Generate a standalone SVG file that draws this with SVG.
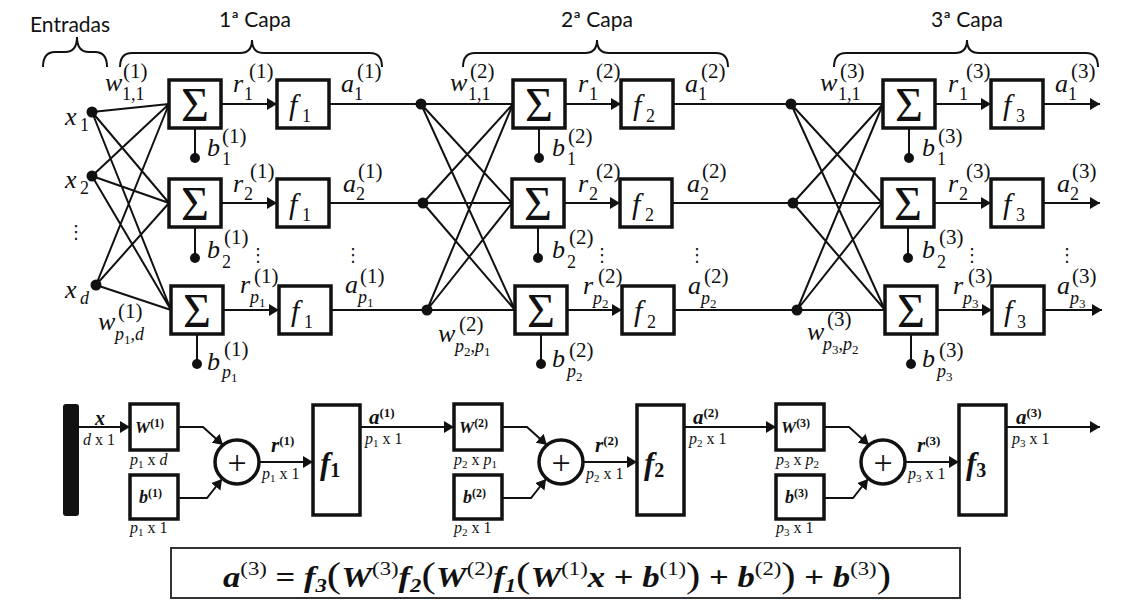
<svg xmlns="http://www.w3.org/2000/svg" width="1122" height="602" viewBox="0 0 1122 602">
<defs>
<style>
.t{font-family:Lato,"Liberation Sans",sans-serif;font-size:21px;fill:#111}
.bx{fill:#fff;stroke:#111;stroke-width:3.5}
.ln{stroke:#111;stroke-width:2;fill:none}
.br{stroke:#111;stroke-width:2;fill:none}
.dot{fill:#111}
.m{font-family:"Liberation Serif","DejaVu Serif",serif;font-style:italic;font-size:26px;fill:#111}
.sp{font-family:"Liberation Serif","DejaVu Serif",serif;font-size:21px;fill:#111}
.sb{font-family:"Liberation Serif","DejaVu Serif",serif;font-size:18px;fill:#111}
.ss{font-size:13px;font-style:normal}
.i{font-style:italic}
.sig{font-family:"Liberation Serif","DejaVu Serif",serif;font-size:48px;fill:#111;text-anchor:middle}
.fb{font-family:"Liberation Serif","DejaVu Serif",serif;font-style:italic;font-size:30px;fill:#111}
.fbs{font-family:"Liberation Serif","DejaVu Serif",serif;font-size:18px;fill:#111}
.vd{font-family:"DejaVu Sans",sans-serif;font-size:18px;fill:#111;text-anchor:middle}
.bi{font-family:"Liberation Serif","DejaVu Serif",serif;font-style:italic;font-weight:bold;fill:#111}
.bsp{font-family:"Liberation Serif","DejaVu Serif",serif;font-weight:bold;font-style:normal;fill:#111}
.dm{font-family:"Liberation Serif","DejaVu Serif",serif;font-size:16px;fill:#111}
.d1{font-size:11px}
.plus{font-family:"Liberation Serif","DejaVu Serif",serif;font-size:34px;fill:#111;text-anchor:middle}
.fm{font-family:"Liberation Serif","DejaVu Serif",serif;font-style:italic;font-weight:bold;font-size:29px;fill:#111}
.fsp{font-style:normal;font-weight:normal;font-size:19px}
.fsb{font-size:19px}
.fop{font-style:normal}
.fpar{font-style:normal;font-weight:normal;font-size:36px}
</style>
<marker id="ah" markerUnits="userSpaceOnUse" viewBox="0 0 10 12" markerWidth="10" markerHeight="12" refX="10" refY="6" orient="auto">
<path d="M0,0 L10,6 L0,12 z" fill="#111"/>
</marker>
</defs>
<rect width="1122" height="602" fill="#fff"/>

<g id="titles">
<text class="t" x="30" y="32">Entradas</text>
<text class="t" x="255" y="27" text-anchor="middle">1ª Capa</text>
<text class="t" x="597" y="27" text-anchor="middle">2ª Capa</text>
<text class="t" x="967" y="27" text-anchor="middle">3ª Capa</text>
<path class="br" d="M43,67 Q43,52 55,52 L65,52 Q77,52 77,37 Q77,52 89,52 L95,52 Q107,52 107,67"/>
<path class="br" d="M120,67 Q120,53 132,53 L240,53 Q252,53 252,40 Q252,53 264,53 L370,53 Q382,53 382,67"/>
<path class="br" d="M463,67 Q463,53 475,53 L585,53 Q597,53 597,40 Q597,53 609,53 L716,53 Q728,53 728,67"/>
<path class="br" d="M834,67 Q834,53 846,53 L955,53 Q967,53 967,40 Q967,53 979,53 L1086,53 Q1098,53 1098,67"/>
</g>

<g id="connectors">
<path class="ln" d="M92,112 L169,104 M92,112 L169,203 M92,112 L171,310 M92,176 L169,104 M92,176 L169,203 M92,176 L171,310 M96,285 L169,104 M96,285 L169,203 M96,285 L171,310"/>
<path class="ln" d="M329,104 L421,104 M329,203 L423,203 M331,310 L427,310 M673,104 L791,104 M672,203 L793,203 M674,310 L797,310"/>
<path class="ln" d="M421,104 L513,104 M421,104 L512,203 M421,104 L515,310 M423,203 L513,104 M423,203 L512,203 M423,203 L515,310 M427,310 L513,104 M427,310 L512,203 M427,310 L515,310"/>
<path class="ln" d="M791,104 L883,104 M791,104 L882,203 M791,104 L885,310 M793,203 L883,104 M793,203 L882,203 M793,203 L885,310 M797,310 L883,104 M797,310 L882,203 M797,310 L885,310"/>
<line class="ln" x1="221" y1="104" x2="277" y2="104" marker-end="url(#ah)"/>
<line class="ln" x1="221" y1="203" x2="277" y2="203" marker-end="url(#ah)"/>
<line class="ln" x1="223" y1="310" x2="279" y2="310" marker-end="url(#ah)"/>
<line class="ln" x1="565" y1="104" x2="621" y2="104" marker-end="url(#ah)"/>
<line class="ln" x1="564" y1="203" x2="620" y2="203" marker-end="url(#ah)"/>
<line class="ln" x1="567" y1="310" x2="622" y2="310" marker-end="url(#ah)"/>
<line class="ln" x1="935" y1="104" x2="991" y2="104" marker-end="url(#ah)"/>
<line class="ln" x1="934" y1="203" x2="991" y2="203" marker-end="url(#ah)"/>
<line class="ln" x1="937" y1="310" x2="992" y2="310" marker-end="url(#ah)"/>
<line class="ln" x1="1043" y1="104" x2="1100" y2="104" marker-end="url(#ah)"/>
<line class="ln" x1="1043" y1="203" x2="1100" y2="203" marker-end="url(#ah)"/>
<line class="ln" x1="1044" y1="310" x2="1102" y2="310" marker-end="url(#ah)"/>
<path class="ln" d="M195,128 L195,158 M195,227 L195,258 M197,334 L197,364 M539,128 L539,158 M538,227 L538,258 M541,334 L541,364 M909,128 L909,158 M908,227 L908,258 M911,334 L911,364"/>
<line class="ln" x1="79" y1="427" x2="130" y2="427" marker-end="url(#ah)"/>
<polyline class="ln" points="178,427 203,427 223,445" marker-end="url(#ah)"/>
<polyline class="ln" points="178,498 207,498 222,479" marker-end="url(#ah)"/>
<line class="ln" x1="259" y1="462" x2="313" y2="462" marker-end="url(#ah)"/>
<line class="ln" x1="360" y1="427" x2="454" y2="427" marker-end="url(#ah)"/>
<polyline class="ln" points="502,427 527,427 547,445" marker-end="url(#ah)"/>
<polyline class="ln" points="502,498 531,498 546,479" marker-end="url(#ah)"/>
<line class="ln" x1="583" y1="462" x2="637" y2="462" marker-end="url(#ah)"/>
<line class="ln" x1="684" y1="427" x2="776" y2="427" marker-end="url(#ah)"/>
<polyline class="ln" points="824,427 849,427 869,445" marker-end="url(#ah)"/>
<polyline class="ln" points="824,498 853,498 868,479" marker-end="url(#ah)"/>
<line class="ln" x1="905" y1="462" x2="959" y2="462" marker-end="url(#ah)"/>
<line class="ln" x1="1006" y1="427" x2="1100" y2="427" marker-end="url(#ah)"/>
</g>

<g id="inputs">
<circle class="dot" cx="92" cy="112" r="5.5"/>
<circle class="dot" cx="92" cy="176" r="5.5"/>
<circle class="dot" cx="96" cy="285" r="5.5"/>
<text class="m" x="65" y="125">x</text><text class="sb" x="80" y="131">1</text>
<text class="m" x="65" y="188">x</text><text class="sb" x="80" y="194">2</text>
<text class="vd" x="76" y="238">⋮</text>
<text class="m" x="65" y="298">x</text><text class="sb i" x="80" y="304">d</text>
</g>

<g id="layer1">
<rect class="bx" x="169" y="80" width="52" height="48"/><text class="sig" x="195" y="121">Σ</text>
<rect class="bx" x="169" y="179" width="52" height="48"/><text class="sig" x="195" y="220">Σ</text>
<rect class="bx" x="171" y="286" width="52" height="48"/><text class="sig" x="197" y="327">Σ</text>
<rect class="bx" x="277" y="80" width="52" height="48"/><text class="fb" x="289" y="115">f</text><text class="fbs" x="302" y="122">1</text>
<rect class="bx" x="277" y="179" width="52" height="48"/><text class="fb" x="289" y="214">f</text><text class="fbs" x="302" y="221">1</text>
<rect class="bx" x="279" y="286" width="52" height="48"/><text class="fb" x="291" y="321">f</text><text class="fbs" x="304" y="328">1</text>
<circle class="dot" cx="195" cy="158" r="5"/>
<circle class="dot" cx="195" cy="258" r="5"/>
<circle class="dot" cx="197" cy="364" r="5"/>
<text class="m" x="105" y="91">w</text><text class="sp" x="123" y="78">(1)</text><text class="sb" x="122" y="100">1,1</text>
<text class="m" x="98" y="330">w</text><text class="sp" x="118" y="318">(1)</text><text class="sb" x="115" y="340"><tspan class="i">p</tspan><tspan class="ss" dy="4">1</tspan><tspan dy="-4">,</tspan><tspan class="i">d</tspan></text>
<text class="m" x="233" y="92">r</text><text class="sp" x="249" y="78">(1)</text><text class="sb" x="244" y="100">1</text>
<text class="m" x="341" y="92">a</text><text class="sp" x="357" y="78">(1)</text><text class="sb" x="354" y="100">1</text>
<text class="m" x="207" y="156">b</text><text class="sp" x="222" y="143">(1)</text><text class="sb" x="222" y="165">1</text>
<text class="m" x="233" y="192">r</text><text class="sp" x="250" y="178">(1)</text><text class="sb" x="244" y="200">2</text>
<text class="m" x="343" y="192">a</text><text class="sp" x="358" y="178">(1)</text><text class="sb" x="356" y="200">2</text>
<text class="m" x="207" y="258">b</text><text class="sp" x="224" y="244">(1)</text><text class="sb" x="222" y="268">2</text>
<text class="vd" x="258" y="261">⋮</text>
<text class="vd" x="353" y="261">⋮</text>
<text class="m" x="240" y="293">r</text><text class="sp" x="254" y="283">(1)</text><text class="sb" x="250" y="303"><tspan class="i">p</tspan><tspan class="ss" dy="4">1</tspan></text>
<text class="m" x="345" y="293">a</text><text class="sp" x="360" y="283">(1)</text><text class="sb" x="358" y="303"><tspan class="i">p</tspan><tspan class="ss" dy="4">1</tspan></text>
<text class="m" x="207" y="370">b</text><text class="sp" x="224" y="356">(1)</text><text class="sb" x="222" y="378"><tspan class="i">p</tspan><tspan class="ss" dy="4">1</tspan></text>
</g>

<g id="layer2">
<circle class="dot" cx="421" cy="104" r="5.5"/>
<circle class="dot" cx="423" cy="203" r="5.5"/>
<circle class="dot" cx="427" cy="310" r="5.5"/>
<rect class="bx" x="513" y="80" width="52" height="48"/><text class="sig" x="539" y="121">Σ</text>
<rect class="bx" x="512" y="179" width="52" height="48"/><text class="sig" x="538" y="220">Σ</text>
<rect class="bx" x="515" y="286" width="52" height="48"/><text class="sig" x="541" y="327">Σ</text>
<rect class="bx" x="621" y="80" width="52" height="48"/><text class="fb" x="633" y="115">f</text><text class="fbs" x="646" y="122">2</text>
<rect class="bx" x="620" y="179" width="52" height="48"/><text class="fb" x="632" y="214">f</text><text class="fbs" x="645" y="221">2</text>
<rect class="bx" x="622" y="286" width="52" height="48"/><text class="fb" x="634" y="321">f</text><text class="fbs" x="647" y="328">2</text>
<circle class="dot" cx="539" cy="158" r="5"/>
<circle class="dot" cx="538" cy="258" r="5"/>
<circle class="dot" cx="541" cy="364" r="5"/>
<text class="m" x="450" y="91">w</text><text class="sp" x="470" y="78">(2)</text><text class="sb" x="468" y="100">1,1</text>
<text class="m" x="438" y="342">w</text><text class="sp" x="459" y="331">(2)</text><text class="sb" x="455" y="352"><tspan class="i">p</tspan><tspan class="ss" dy="4">2</tspan><tspan dy="-4">,</tspan><tspan class="i">p</tspan><tspan class="ss" dy="4">1</tspan></text>
<text class="m" x="578" y="92">r</text><text class="sp" x="596" y="78">(2)</text><text class="sb" x="589" y="100">1</text>
<text class="m" x="685" y="92">a</text><text class="sp" x="701" y="78">(2)</text><text class="sb" x="698" y="100">1</text>
<text class="m" x="552" y="156">b</text><text class="sp" x="568" y="143">(2)</text><text class="sb" x="567" y="165">1</text>
<text class="m" x="578" y="192">r</text><text class="sp" x="596" y="178">(2)</text><text class="sb" x="589" y="200">2</text>
<text class="m" x="687" y="192">a</text><text class="sp" x="702" y="178">(2)</text><text class="sb" x="700" y="200">2</text>
<text class="m" x="552" y="258">b</text><text class="sp" x="569" y="244">(2)</text><text class="sb" x="567" y="268">2</text>
<text class="vd" x="602" y="261">⋮</text>
<text class="vd" x="697" y="261">⋮</text>
<text class="m" x="583" y="294">r</text><text class="sp" x="598" y="283">(2)</text><text class="sb" x="593" y="304"><tspan class="i">p</tspan><tspan class="ss" dy="4">2</tspan></text>
<text class="m" x="688" y="294">a</text><text class="sp" x="704" y="283">(2)</text><text class="sb" x="701" y="304"><tspan class="i">p</tspan><tspan class="ss" dy="4">2</tspan></text>
<text class="m" x="552" y="367">b</text><text class="sp" x="569" y="357">(2)</text><text class="sb" x="567" y="377"><tspan class="i">p</tspan><tspan class="ss" dy="4">2</tspan></text>
</g>

<g id="layer3">
<circle class="dot" cx="791" cy="104" r="5.5"/>
<circle class="dot" cx="793" cy="203" r="5.5"/>
<circle class="dot" cx="797" cy="310" r="5.5"/>
<rect class="bx" x="883" y="80" width="52" height="48"/><text class="sig" x="909" y="121">Σ</text>
<rect class="bx" x="882" y="179" width="52" height="48"/><text class="sig" x="908" y="220">Σ</text>
<rect class="bx" x="885" y="286" width="52" height="48"/><text class="sig" x="911" y="327">Σ</text>
<rect class="bx" x="991" y="80" width="52" height="48"/><text class="fb" x="1003" y="115">f</text><text class="fbs" x="1016" y="122">3</text>
<rect class="bx" x="991" y="179" width="52" height="48"/><text class="fb" x="1003" y="214">f</text><text class="fbs" x="1016" y="221">3</text>
<rect class="bx" x="992" y="286" width="52" height="48"/><text class="fb" x="1004" y="321">f</text><text class="fbs" x="1017" y="328">3</text>
<circle class="dot" cx="909" cy="158" r="5"/>
<circle class="dot" cx="908" cy="258" r="5"/>
<circle class="dot" cx="911" cy="364" r="5"/>
<text class="m" x="820" y="91">w</text><text class="sp" x="840" y="78">(3)</text><text class="sb" x="838" y="100">1,1</text>
<text class="m" x="807" y="340">w</text><text class="sp" x="827" y="326">(3)</text><text class="sb" x="823" y="350"><tspan class="i">p</tspan><tspan class="ss" dy="4">3</tspan><tspan dy="-4">,</tspan><tspan class="i">p</tspan><tspan class="ss" dy="4">2</tspan></text>
<text class="m" x="948" y="92">r</text><text class="sp" x="966" y="78">(3)</text><text class="sb" x="959" y="100">1</text>
<text class="m" x="1055" y="92">a</text><text class="sp" x="1071" y="78">(3)</text><text class="sb" x="1068" y="100">1</text>
<text class="m" x="922" y="156">b</text><text class="sp" x="938" y="143">(3)</text><text class="sb" x="937" y="165">1</text>
<text class="m" x="948" y="192">r</text><text class="sp" x="966" y="178">(3)</text><text class="sb" x="959" y="200">2</text>
<text class="m" x="1057" y="192">a</text><text class="sp" x="1072" y="178">(3)</text><text class="sb" x="1070" y="200">2</text>
<text class="m" x="922" y="258">b</text><text class="sp" x="939" y="244">(3)</text><text class="sb" x="937" y="268">2</text>
<text class="vd" x="972" y="261">⋮</text>
<text class="vd" x="1067" y="261">⋮</text>
<text class="m" x="953" y="294">r</text><text class="sp" x="968" y="283">(3)</text><text class="sb" x="963" y="304"><tspan class="i">p</tspan><tspan class="ss" dy="4">3</tspan></text>
<text class="m" x="1057" y="294">a</text><text class="sp" x="1072" y="283">(3)</text><text class="sb" x="1070" y="304"><tspan class="i">p</tspan><tspan class="ss" dy="4">3</tspan></text>
<text class="m" x="922" y="367">b</text><text class="sp" x="939" y="357">(3)</text><text class="sb" x="937" y="377"><tspan class="i">p</tspan><tspan class="ss" dy="4">3</tspan></text>
</g>

<g id="matrix-input">
<rect x="63" y="404" width="16" height="112" rx="3" fill="#111"/>
<text class="bi" x="95" y="425" font-size="20">x</text>
<text class="dm" x="83" y="445"><tspan class="i">d</tspan> x 1</text>
</g>

<g id="matrix-layer1">
<rect class="bx" x="130" y="404" width="48" height="46"/>
<text class="bi" x="135" y="433" font-size="17">W<tspan class="bsp" font-size="12" dy="-6">(1)</tspan></text>
<text class="dm" x="130" y="465"><tspan class="i">p</tspan><tspan class="d1" dy="3">1</tspan><tspan dy="-3"> x </tspan><tspan class="i">d</tspan></text>
<rect class="bx" x="130" y="475" width="48" height="44"/>
<text class="bi" x="139" y="503" font-size="18">b<tspan class="bsp" font-size="12" dy="-6">(1)</tspan></text>
<text class="dm" x="130" y="533"><tspan class="i">p</tspan><tspan class="d1" dy="3">1</tspan><tspan dy="-3"> x 1</tspan></text>
<circle class="bx" cx="237" cy="462" r="22"/>
<text class="plus" x="237" y="474">+</text>
<text class="bi" x="271" y="452" font-size="21">r<tspan class="bsp" font-size="13" dy="-7">(1)</tspan></text>
<text class="dm" x="262" y="479"><tspan class="i">p</tspan><tspan class="d1" dy="3">1</tspan><tspan dy="-3"> x 1</tspan></text>
<rect class="bx" x="313" y="405" width="47" height="110"/>
<text class="bi" x="320" y="474" font-size="31">f<tspan class="bsp" font-size="20" dy="3">1</tspan></text>
<text class="bi" x="369" y="424" font-size="21">a<tspan class="bsp" font-size="13" dy="-7">(1)</tspan></text>
<text class="dm" x="365" y="444"><tspan class="i">p</tspan><tspan class="d1" dy="3">1</tspan><tspan dy="-3"> x 1</tspan></text>
</g>

<g id="matrix-layer2">
<rect class="bx" x="454" y="404" width="48" height="46"/>
<text class="bi" x="459" y="433" font-size="17">W<tspan class="bsp" font-size="12" dy="-6">(2)</tspan></text>
<text class="dm" x="454" y="465"><tspan class="i">p</tspan><tspan class="d1" dy="3">2</tspan><tspan dy="-3"> x </tspan><tspan class="i">p</tspan><tspan class="d1" dy="3">1</tspan></text>
<rect class="bx" x="454" y="475" width="48" height="44"/>
<text class="bi" x="463" y="503" font-size="18">b<tspan class="bsp" font-size="12" dy="-6">(2)</tspan></text>
<text class="dm" x="454" y="533"><tspan class="i">p</tspan><tspan class="d1" dy="3">2</tspan><tspan dy="-3"> x 1</tspan></text>
<circle class="bx" cx="561" cy="462" r="22"/>
<text class="plus" x="561" y="474">+</text>
<text class="bi" x="595" y="452" font-size="21">r<tspan class="bsp" font-size="13" dy="-7">(2)</tspan></text>
<text class="dm" x="586" y="479"><tspan class="i">p</tspan><tspan class="d1" dy="3">2</tspan><tspan dy="-3"> x 1</tspan></text>
<rect class="bx" x="637" y="405" width="47" height="110"/>
<text class="bi" x="644" y="474" font-size="31">f<tspan class="bsp" font-size="20" dy="3">2</tspan></text>
<text class="bi" x="693" y="424" font-size="21">a<tspan class="bsp" font-size="13" dy="-7">(2)</tspan></text>
<text class="dm" x="689" y="444"><tspan class="i">p</tspan><tspan class="d1" dy="3">2</tspan><tspan dy="-3"> x 1</tspan></text>
</g>

<g id="matrix-layer3">
<rect class="bx" x="776" y="404" width="48" height="46"/>
<text class="bi" x="781" y="433" font-size="17">W<tspan class="bsp" font-size="12" dy="-6">(3)</tspan></text>
<text class="dm" x="776" y="465"><tspan class="i">p</tspan><tspan class="d1" dy="3">3</tspan><tspan dy="-3"> x </tspan><tspan class="i">p</tspan><tspan class="d1" dy="3">2</tspan></text>
<rect class="bx" x="776" y="475" width="48" height="44"/>
<text class="bi" x="785" y="503" font-size="18">b<tspan class="bsp" font-size="12" dy="-6">(3)</tspan></text>
<text class="dm" x="776" y="533"><tspan class="i">p</tspan><tspan class="d1" dy="3">3</tspan><tspan dy="-3"> x 1</tspan></text>
<circle class="bx" cx="883" cy="462" r="22"/>
<text class="plus" x="883" y="474">+</text>
<text class="bi" x="917" y="452" font-size="21">r<tspan class="bsp" font-size="13" dy="-7">(3)</tspan></text>
<text class="dm" x="908" y="479"><tspan class="i">p</tspan><tspan class="d1" dy="3">3</tspan><tspan dy="-3"> x 1</tspan></text>
<rect class="bx" x="959" y="405" width="47" height="110"/>
<text class="bi" x="966" y="474" font-size="31">f<tspan class="bsp" font-size="20" dy="3">3</tspan></text>
<text class="bi" x="1016" y="424" font-size="21">a<tspan class="bsp" font-size="13" dy="-7">(3)</tspan></text>
<text class="dm" x="1012" y="444"><tspan class="i">p</tspan><tspan class="d1" dy="3">3</tspan><tspan dy="-3"> x 1</tspan></text>
</g>

<g id="formula">
<rect x="171" y="548" width="789" height="50" fill="#fff" stroke="#333" stroke-width="2"/>
<text class="fm" x="557" y="587" text-anchor="middle" textLength="668" lengthAdjust="spacingAndGlyphs">a<tspan class="fsp" dy="-12">(3)</tspan><tspan class="fop" dy="12"> = </tspan>f<tspan class="fsb" dy="5">3</tspan><tspan class="fpar" dy="-5">(</tspan>W<tspan class="fsp" dy="-12">(3)</tspan><tspan dy="12">f</tspan><tspan class="fsb" dy="5">2</tspan><tspan class="fpar" dy="-5">(</tspan>W<tspan class="fsp" dy="-12">(2)</tspan><tspan dy="12">f</tspan><tspan class="fsb" dy="5">1</tspan><tspan class="fpar" dy="-5">(</tspan>W<tspan class="fsp" dy="-12">(1)</tspan><tspan dy="12">x</tspan><tspan class="fop"> + </tspan>b<tspan class="fsp" dy="-12">(1)</tspan><tspan class="fpar" dy="12">)</tspan><tspan class="fop"> + </tspan>b<tspan class="fsp" dy="-12">(2)</tspan><tspan class="fpar" dy="12">)</tspan><tspan class="fop"> + </tspan>b<tspan class="fsp" dy="-12">(3)</tspan><tspan class="fpar" dy="12">)</tspan></text>
</g>
</svg>
